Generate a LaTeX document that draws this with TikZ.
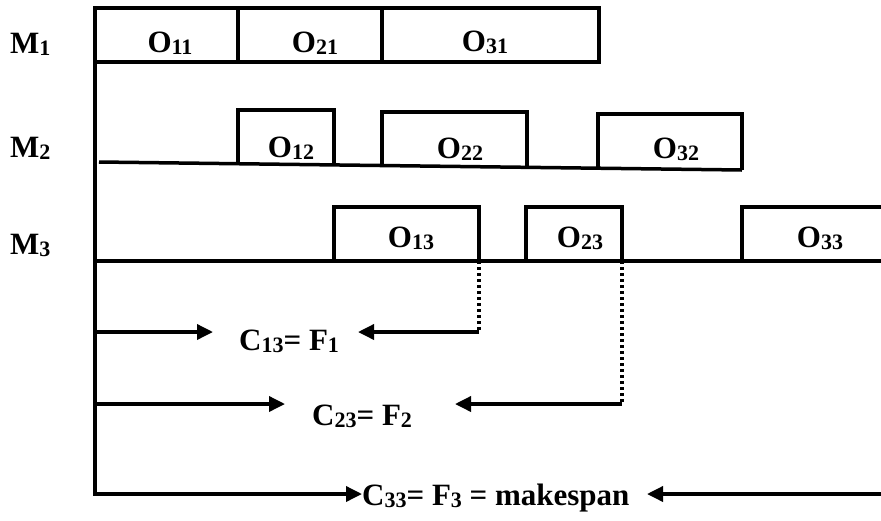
\documentclass[tikz,border=0pt]{standalone}
\usepackage{fontspec}
\setmainfont{Liberation Serif}
\usetikzlibrary{arrows.meta}
\newcommand\sbs[1]{\raisebox{-2.5pt}{\fontsize{22}{22}\selectfont #1}}
\tikzset{
  gline/.style={line width=3.5pt, line cap=butt, line join=miter},
  arr/.style={gline, -{Triangle[length=16pt,width=15pt]}},
  dotline/.style={line width=3.5pt, dash pattern=on 3pt off 3pt},
  lbl/.style={inner sep=0pt, anchor=base, font=\fontsize{31}{37}\selectfont\bfseries},
  lblw/.style={lbl, anchor=base west},
}
\begin{document}
\begin{tikzpicture}[x=1pt, y=-1pt]
\useasboundingbox (0,0) rectangle (881,520);

% machine names
\node[lblw] (m1) at (10,53) {M\sbs{1}};
\node[lblw] (m2) at (10,157) {M\sbs{2}};
\node[lblw] (m3) at (10,254) {M\sbs{3}};

% time axis and machine M1
\draw[gline] (95,62) rectangle (238,8);
\draw[gline] (238,62) rectangle (382,8);
\draw[gline] (382,62) rectangle (599,8);

% machine M2 (slightly sloped base line)
\draw[gline] (99,162) -- (742,170);
\draw[gline] (238,163.7) |- (334,110) -- (334,164.9);
\draw[gline] (382,165.5) |- (527,112) -- (527,167.3);
\draw[gline] (598,168.2) |- (742,114) -- (742,170);

% machine M3
\draw[gline] (95,261) -- (881,261);
\draw[gline] (334,261) |- (479,207) -- (479,261);
\draw[gline] (526,261) |- (622,207) -- (622,261);
\draw[gline] (742,261) |- (881,207);

% operation labels
\node[lbl] (o11) at (170,52) {O\sbs{11}};
\node[lbl] (o21) at (315,52) {O\sbs{21}};
\node[lbl] (o31) at (485,51) {O\sbs{31}};
\node[lbl] (o12) at (291,157) {O\sbs{12}};
\node[lbl] (o22) at (460,158) {O\sbs{22}};
\node[lbl] (o32) at (676,158) {O\sbs{32}};
\node[lbl] (o13) at (411,247) {O\sbs{13}};
\node[lbl] (o23) at (580,247) {O\sbs{23}};
\node[lbl] (o33) at (820,247) {O\sbs{33}};

% completion times
\node[lblw] (c1) at (239,350) {C\sbs{13}= F\sbs{1}};
\node[lblw] (c2) at (312,425) {C\sbs{23}= F\sbs{2}};
\node[lblw] (c3) at (362,505) {C\sbs{33}= F\sbs{3} = makespan};

\coordinate (top) at (95,8);
\coordinate (e1) at (479,261);
\coordinate (e2) at (622,261);
\coordinate (k1) at (479,332);
\coordinate (k2) at (622,404);
\coordinate (a1) at (95,332);
\coordinate (a2) at (95,404);
\coordinate (a3) at (95,494);
\coordinate (r3) at (881,494);

% axis with the makespan arrow
\draw[arr] (top) -- (a3) -- (c3.west |- a3);
\draw[arr] (r3) -- (647,494);

% job 1
\draw[arr] (a1) -- (213,332);
\draw[dotline] (e1) -- (k1);
\draw[arr] (k1) -- (358,332);

% job 2
\draw[arr] (a2) -- (285,404);
\draw[dotline] (e2) -- (k2);
\draw[arr] (k2) -- (455,404);
\end{tikzpicture}
\end{document}
